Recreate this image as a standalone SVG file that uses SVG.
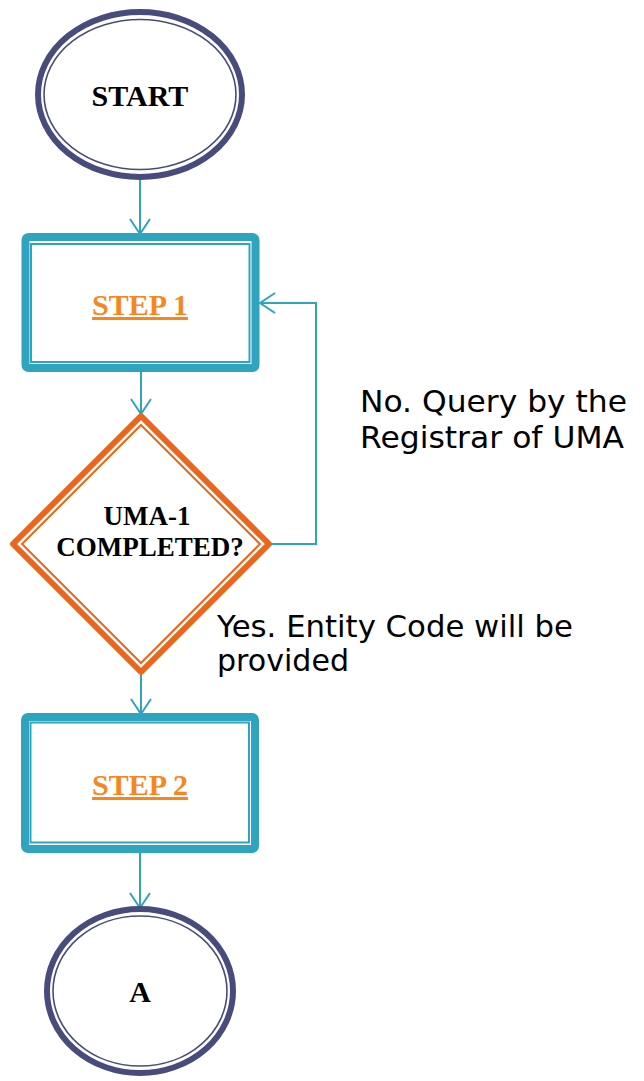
<svg xmlns="http://www.w3.org/2000/svg" width="644" height="1081" viewBox="0 0 644 1081">
<style>
.term-o{fill:#fff;stroke:#474C7C;stroke-width:6}
.term-i{fill:none;stroke:#474C7C;stroke-width:1.6}
.box-o{fill:#fff;stroke:#30A3BF;stroke-width:8}
.box-i{fill:none;stroke:#30A3BF;stroke-width:2}
.dia-o{fill:#fff;stroke:#E8671C;stroke-width:6;stroke-linejoin:round}
.dia-i{fill:none;stroke:#E8671C;stroke-width:2}
.lbl{font-family:"Liberation Serif","Times New Roman",serif;font-weight:bold;fill:#000;text-anchor:middle}
.step{font-family:"Liberation Serif","Times New Roman",serif;font-weight:bold;fill:#F7861E;text-anchor:middle;font-size:30px;text-decoration:underline}
.note{font-family:"DejaVu Sans",sans-serif;font-size:30px;fill:#000}
.conn{fill:none;stroke:#30A3BF;stroke-width:2;marker-end:url(#arr)}
</style>
<defs>
<marker id="arr" markerUnits="userSpaceOnUse" viewBox="-17 -12 19 24" markerWidth="19" markerHeight="24" refX="0" refY="0" orient="auto">
<path d="M-15,-10 L0,0 L-15,10" fill="none" stroke="#30A3BF" stroke-width="2"/>
</marker>
</defs>
<rect width="644" height="1081" fill="#fff"/>
<g id="connectors">
<path class="conn" d="M140,180 L140,234"/>
<path class="conn" d="M141,372 L141,414"/>
<path class="conn" d="M272,544 L316,544 L316,303 L260,303"/>
<path class="conn" d="M141,675 L141,714"/>
<path class="conn" d="M140,853 L140,908"/>
</g>
<g id="start">
<ellipse class="term-o" cx="140" cy="94.5" rx="102" ry="82.5"/>
<ellipse class="term-i" cx="140" cy="94.5" rx="96" ry="75"/>
<text class="lbl" x="140" y="106" font-size="30">START</text>
</g>
<g id="step1">
<rect class="box-o" x="25.5" y="237" width="230" height="131" rx="3"/>
<rect class="box-i" x="31" y="244" width="218.5" height="118"/>
<text class="step" x="140" y="315">STEP 1</text>
</g>
<g id="decision">
<path class="dia-o" d="M141,416 L269,544 L141,672 L13,544 Z"/>
<path class="dia-i" d="M141,425 L260,544 L141,663 L22,544 Z"/>
<text class="lbl" x="147" y="525" font-size="27">UMA-1</text>
<text class="lbl" x="150" y="556" font-size="27">COMPLETED?</text>
</g>
<g id="step2">
<rect class="box-o" x="25" y="717" width="230" height="132" rx="3"/>
<rect class="box-i" x="30.5" y="722.5" width="218.5" height="120"/>
<text class="step" x="140" y="795">STEP 2</text>
</g>
<g id="end-a">
<ellipse class="term-o" cx="140" cy="991" rx="93" ry="82"/>
<ellipse class="term-i" cx="140" cy="991" rx="87" ry="75"/>
<text class="lbl" x="140" y="1002" font-size="30">A</text>
</g>
<g id="labels">
<text class="note" x="360" y="412" textLength="267" lengthAdjust="spacingAndGlyphs">No. Query by the</text>
<text class="note" x="360" y="448" textLength="264" lengthAdjust="spacingAndGlyphs">Registrar of UMA</text>
<text class="note" x="217" y="637" textLength="356" lengthAdjust="spacingAndGlyphs">Yes. Entity Code will be</text>
<text class="note" x="217" y="671" textLength="132" lengthAdjust="spacingAndGlyphs">provided</text>
</g>
</svg>
